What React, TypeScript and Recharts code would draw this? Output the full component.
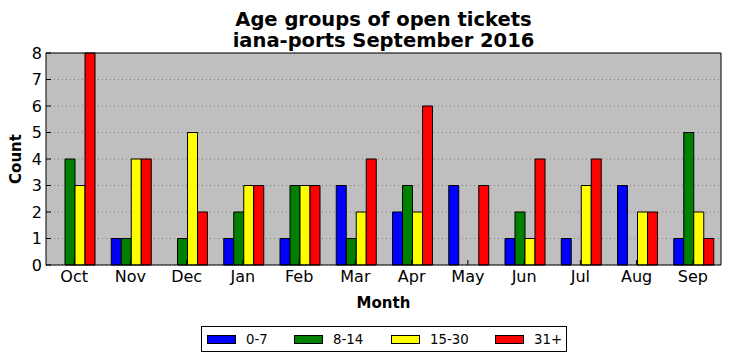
import { Bar, BarChart, CartesianGrid, XAxis, YAxis } from 'recharts'

const months = ['Oct', 'Nov', 'Dec', 'Jan', 'Feb', 'Mar', 'Apr', 'May', 'Jun', 'Jul', 'Aug', 'Sep']
const age0to7 = [0, 1, 0, 1, 1, 3, 2, 3, 1, 1, 3, 1]
const age8to14 = [4, 1, 1, 2, 3, 1, 3, 0, 2, 0, 0, 5]
const age15to30 = [3, 4, 5, 3, 3, 2, 2, 0, 1, 3, 2, 2]
const age31plus = [8, 4, 2, 3, 3, 4, 6, 3, 4, 4, 2, 1]
const countTicks = [0, 1, 2, 3, 4, 5, 6, 7, 8]

const series = [
  { key: 'a0', name: '0-7', color: '#0000ff' },
  { key: 'a8', name: '8-14', color: '#008000' },
  { key: 'a15', name: '15-30', color: '#ffff00' },
  { key: 'a31', name: '31+', color: '#ff0000' },
]

// left offsets of the legend entries inside the legend box
const legendOffsets = [6, 93, 190, 294]

const font = '"DejaVu Sans", sans-serif'
const tickStyle = { fill: '#000', fontSize: 16, fontFamily: font }

export default function App() {
  const data = months.map((m, i) => ({
    month: m,
    a0: age0to7[i],
    a8: age8to14[i],
    a15: age15to30[i],
    a31: age31plus[i],
  }))

  return (
    <div style={{ position: 'absolute', left: 0, top: 0, width: 731, height: 361, background: '#fff', fontFamily: font }}>
      <div
        style={{
          position: 'absolute',
          left: 46,
          width: 675,
          top: 8.5,
          textAlign: 'center',
          fontSize: 19.5,
          fontWeight: 'bold',
          lineHeight: '21px',
        }}
      >
        <div>Age groups of open tickets</div>
        <div>iana-ports September 2016</div>
      </div>

      <BarChart
        width={731}
        height={361}
        data={data}
        margin={{ top: 52, right: 9, bottom: 66, left: 16 }}
        barCategoryGap={9}
        barGap={0}
      >
        <CartesianGrid
          vertical={false}
          fill="#bfbfbf"
          fillOpacity={1}
          stroke="#7f7f7f"
          strokeDasharray="1 3"
          strokeWidth={1}
        />
        <XAxis
          dataKey="month"
          height={30}
          axisLine={{ stroke: '#000' }}
          tickLine={{ stroke: '#000' }}
          tickSize={-5}
          tickMargin={11}
          tick={tickStyle}
          interval={0}
        />
        <XAxis
          xAxisId="top"
          orientation="top"
          dataKey="month"
          height={1}
          axisLine={{ stroke: '#000' }}
          tickLine={{ stroke: '#000' }}
          tickSize={-5}
          tick={false}
          interval={0}
        />
        <YAxis
          width={30}
          domain={[0, 8]}
          ticks={countTicks}
          interval={0}
          axisLine={{ stroke: '#000' }}
          tickLine={{ stroke: '#000' }}
          tickSize={-5}
          tickMargin={9}
          tick={tickStyle}
        />
        <YAxis
          yAxisId="right"
          orientation="right"
          width={1}
          domain={[0, 8]}
          ticks={countTicks}
          interval={0}
          axisLine={{ stroke: '#000' }}
          tickLine={{ stroke: '#000' }}
          tickSize={-5}
          tick={false}
        />
        {series.map(s => (
          <Bar
            key={s.key}
            dataKey={s.key}
            name={s.name}
            fill={s.color}
            stroke="#000"
            strokeWidth={1}
            isAnimationActive={false}
          />
        ))}
      </BarChart>

      <div
        style={{
          position: 'absolute',
          left: 0,
          width: 767,
          top: 294,
          textAlign: 'center',
          fontSize: 15,
          fontWeight: 'bold',
        }}
      >
        Month
      </div>
      <div
        style={{
          position: 'absolute',
          left: 16,
          top: 159,
          fontSize: 15,
          fontWeight: 'bold',
          transform: 'translate(-50%, -50%) rotate(-90deg)',
        }}
      >
        Count
      </div>

      <div
        style={{
          position: 'absolute',
          left: 201,
          top: 326,
          width: 366,
          height: 26,
          border: '1px solid #000',
          boxSizing: 'border-box',
          fontSize: 13.3,
        }}
      >
        {series.map((s, i) => (
          <div
            key={s.key}
            style={{
              position: 'absolute',
              left: legendOffsets[i] - 1,
              top: 0,
              height: 24,
              display: 'flex',
              alignItems: 'center',
              gap: 10,
            }}
          >
            <div style={{ width: 29, height: 9, background: s.color, border: '1px solid #000', boxSizing: 'border-box' }} />
            <span>{s.name}</span>
          </div>
        ))}
      </div>
    </div>
  )
}
